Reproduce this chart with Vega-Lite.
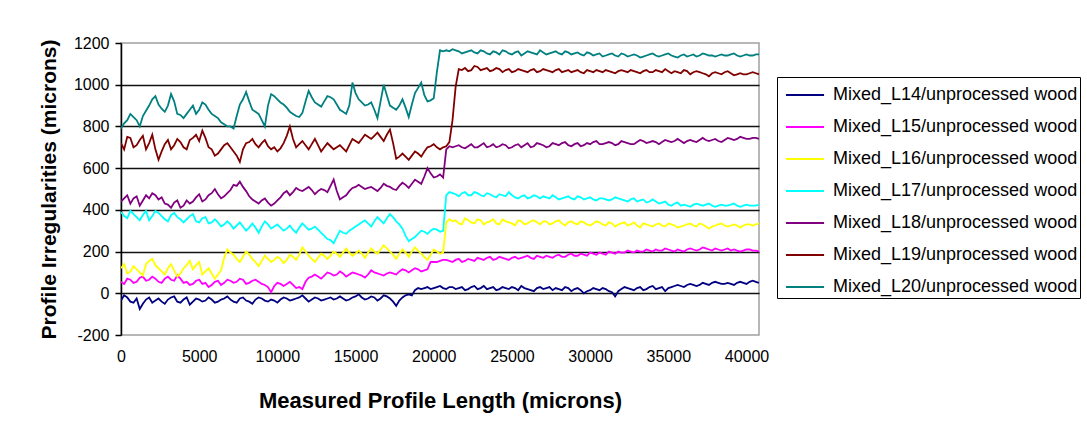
{
"$schema": "https://vega.github.io/schema/vega-lite/v6.json",
"width": 638, "height": 292,
"autosize": {"type": "none"},
"padding": {"left": 121, "top": 43, "right": 328, "bottom": 100},
"background": "white",
"config": {"font": "Liberation Sans", "view": {"stroke": "#a0a0a0", "strokeWidth": 1.5}},
"data": {"values": [
{"x":0,"L14":-35,"L15":55,"L16":120,"L17":390,"L18":440,"L19":720,"L20":790},
{"x":200,"L14":-10,"L15":45,"L16":140,"L17":370,"L18":455,"L19":690,"L20":815},
{"x":400,"L14":-20,"L15":70,"L16":95,"L17":360,"L18":470,"L19":750,"L20":830},
{"x":600,"L14":-40,"L15":65,"L16":105,"L17":395,"L18":430,"L19":745,"L20":860},
{"x":800,"L14":-45,"L15":50,"L16":130,"L17":380,"L18":455,"L19":700,"L20":845},
{"x":1000,"L14":-25,"L15":55,"L16":115,"L17":365,"L18":465,"L19":710,"L20":830},
{"x":1200,"L14":-75,"L15":75,"L16":100,"L17":350,"L18":420,"L19":735,"L20":800},
{"x":1400,"L14":-50,"L15":80,"L16":85,"L17":375,"L18":445,"L19":755,"L20":850},
{"x":1600,"L14":-30,"L15":60,"L16":140,"L17":395,"L18":470,"L19":690,"L20":875},
{"x":1800,"L14":-20,"L15":65,"L16":155,"L17":350,"L18":455,"L19":720,"L20":900},
{"x":2000,"L14":-45,"L15":80,"L16":165,"L17":370,"L18":480,"L19":760,"L20":930},
{"x":2200,"L14":-35,"L15":70,"L16":135,"L17":395,"L18":470,"L19":690,"L20":945},
{"x":2400,"L14":-25,"L15":55,"L16":120,"L17":385,"L18":450,"L19":640,"L20":905},
{"x":2600,"L14":-40,"L15":50,"L16":105,"L17":370,"L18":460,"L19":680,"L20":885},
{"x":2800,"L14":-50,"L15":70,"L16":90,"L17":355,"L18":430,"L19":715,"L20":870},
{"x":3000,"L14":-30,"L15":80,"L16":120,"L17":345,"L18":425,"L19":735,"L20":900},
{"x":3200,"L14":-20,"L15":65,"L16":140,"L17":375,"L18":410,"L19":690,"L20":955},
{"x":3400,"L14":-15,"L15":60,"L16":110,"L17":385,"L18":435,"L19":710,"L20":920},
{"x":3600,"L14":-40,"L15":85,"L16":80,"L17":365,"L18":445,"L19":740,"L20":860},
{"x":3800,"L14":-45,"L15":70,"L16":95,"L17":355,"L18":410,"L19":725,"L20":855},
{"x":4000,"L14":-30,"L15":50,"L16":120,"L17":340,"L18":420,"L19":700,"L20":840},
{"x":4200,"L14":-20,"L15":55,"L16":135,"L17":355,"L18":445,"L19":690,"L20":860},
{"x":4400,"L14":-55,"L15":40,"L16":155,"L17":370,"L18":430,"L19":735,"L20":880},
{"x":4600,"L14":-40,"L15":45,"L16":115,"L17":380,"L18":440,"L19":745,"L20":900},
{"x":4800,"L14":-25,"L15":60,"L16":135,"L17":345,"L18":460,"L19":760,"L20":860},
{"x":5000,"L14":-30,"L15":65,"L16":150,"L17":340,"L18":475,"L19":730,"L20":880},
{"x":5200,"L14":-40,"L15":45,"L16":90,"L17":360,"L18":440,"L19":780,"L20":915},
{"x":5400,"L14":-35,"L15":50,"L16":105,"L17":365,"L18":450,"L19":745,"L20":905},
{"x":5600,"L14":-20,"L15":30,"L16":120,"L17":335,"L18":470,"L19":700,"L20":880},
{"x":5800,"L14":-30,"L15":40,"L16":95,"L17":340,"L18":480,"L19":690,"L20":860},
{"x":6000,"L14":-45,"L15":55,"L16":70,"L17":355,"L18":500,"L19":660,"L20":850},
{"x":6200,"L14":-40,"L15":60,"L16":90,"L17":340,"L18":475,"L19":670,"L20":840},
{"x":6400,"L14":-30,"L15":40,"L16":110,"L17":320,"L18":455,"L19":690,"L20":820},
{"x":6600,"L14":-25,"L15":50,"L16":170,"L17":330,"L18":465,"L19":710,"L20":810},
{"x":6800,"L14":-15,"L15":65,"L16":210,"L17":345,"L18":480,"L19":720,"L20":800},
{"x":7000,"L14":-30,"L15":60,"L16":195,"L17":330,"L18":495,"L19":700,"L20":800},
{"x":7200,"L14":-40,"L15":50,"L16":185,"L17":310,"L18":520,"L19":680,"L20":790},
{"x":7400,"L14":-45,"L15":55,"L16":165,"L17":325,"L18":515,"L19":660,"L20":850},
{"x":7600,"L14":-25,"L15":70,"L16":150,"L17":340,"L18":535,"L19":630,"L20":905},
{"x":7800,"L14":-20,"L15":65,"L16":175,"L17":320,"L18":510,"L19":690,"L20":930},
{"x":8000,"L14":-35,"L15":45,"L16":200,"L17":300,"L18":490,"L19":720,"L20":965},
{"x":8200,"L14":-40,"L15":50,"L16":185,"L17":315,"L18":465,"L19":725,"L20":920},
{"x":8400,"L14":-50,"L15":60,"L16":165,"L17":335,"L18":450,"L19":740,"L20":880},
{"x":8600,"L14":-30,"L15":65,"L16":150,"L17":315,"L18":440,"L19":715,"L20":870},
{"x":8800,"L14":-20,"L15":55,"L16":130,"L17":290,"L18":430,"L19":700,"L20":860},
{"x":9000,"L14":-25,"L15":45,"L16":155,"L17":320,"L18":445,"L19":720,"L20":830},
{"x":9200,"L14":-35,"L15":40,"L16":180,"L17":345,"L18":455,"L19":735,"L20":800},
{"x":9400,"L14":-40,"L15":30,"L16":165,"L17":330,"L18":435,"L19":705,"L20":900},
{"x":9600,"L14":-30,"L15":5,"L16":150,"L17":310,"L18":420,"L19":690,"L20":955},
{"x":9800,"L14":-35,"L15":35,"L16":160,"L17":320,"L18":430,"L19":700,"L20":945},
{"x":10000,"L14":-45,"L15":50,"L16":175,"L17":330,"L18":445,"L19":680,"L20":930},
{"x":10200,"L14":-30,"L15":45,"L16":165,"L17":315,"L18":460,"L19":695,"L20":915},
{"x":10400,"L14":-20,"L15":35,"L16":145,"L17":300,"L18":480,"L19":720,"L20":905},
{"x":10600,"L14":-25,"L15":45,"L16":160,"L17":310,"L18":490,"L19":755,"L20":890},
{"x":10800,"L14":-35,"L15":55,"L16":185,"L17":325,"L18":470,"L19":800,"L20":870},
{"x":11000,"L14":-30,"L15":40,"L16":175,"L17":305,"L18":485,"L19":740,"L20":860},
{"x":11200,"L14":-25,"L15":25,"L16":160,"L17":290,"L18":505,"L19":700,"L20":850},
{"x":11400,"L14":-20,"L15":30,"L16":185,"L17":315,"L18":495,"L19":715,"L20":845},
{"x":11600,"L14":-10,"L15":20,"L16":220,"L17":335,"L18":490,"L19":730,"L20":865},
{"x":11800,"L14":-25,"L15":55,"L16":200,"L17":320,"L18":500,"L19":710,"L20":920},
{"x":12000,"L14":-40,"L15":75,"L16":180,"L17":305,"L18":510,"L19":690,"L20":970},
{"x":12200,"L14":-30,"L15":80,"L16":165,"L17":310,"L18":495,"L19":715,"L20":940},
{"x":12400,"L14":-20,"L15":90,"L16":150,"L17":320,"L18":475,"L19":740,"L20":915},
{"x":12600,"L14":-25,"L15":80,"L16":170,"L17":305,"L18":490,"L19":710,"L20":905},
{"x":12800,"L14":-35,"L15":70,"L16":190,"L17":290,"L18":500,"L19":680,"L20":895},
{"x":13000,"L14":-30,"L15":85,"L16":180,"L17":275,"L18":495,"L19":700,"L20":920},
{"x":13200,"L14":-25,"L15":100,"L16":165,"L17":260,"L18":485,"L19":720,"L20":945},
{"x":13400,"L14":-20,"L15":95,"L16":180,"L17":255,"L18":515,"L19":705,"L20":940},
{"x":13600,"L14":-30,"L15":85,"L16":200,"L17":240,"L18":545,"L19":690,"L20":930},
{"x":13800,"L14":-25,"L15":90,"L16":190,"L17":270,"L18":490,"L19":700,"L20":905},
{"x":14000,"L14":-15,"L15":105,"L16":175,"L17":300,"L18":450,"L19":710,"L20":880},
{"x":14200,"L14":-25,"L15":95,"L16":195,"L17":290,"L18":460,"L19":695,"L20":870},
{"x":14400,"L14":-35,"L15":80,"L16":215,"L17":285,"L18":470,"L19":680,"L20":860},
{"x":14600,"L14":-30,"L15":90,"L16":195,"L17":300,"L18":490,"L19":710,"L20":900},
{"x":14800,"L14":-20,"L15":100,"L16":180,"L17":310,"L18":505,"L19":740,"L20":1010},
{"x":15000,"L14":-15,"L15":95,"L16":190,"L17":320,"L18":510,"L19":730,"L20":960},
{"x":15200,"L14":-5,"L15":90,"L16":205,"L17":330,"L18":520,"L19":720,"L20":930},
{"x":15400,"L14":-20,"L15":85,"L16":190,"L17":340,"L18":510,"L19":740,"L20":915},
{"x":15600,"L14":-30,"L15":75,"L16":170,"L17":350,"L18":500,"L19":760,"L20":900},
{"x":15800,"L14":-25,"L15":90,"L16":195,"L17":335,"L18":505,"L19":750,"L20":905},
{"x":16000,"L14":-15,"L15":110,"L16":215,"L17":320,"L18":510,"L19":740,"L20":915},
{"x":16200,"L14":-20,"L15":100,"L16":200,"L17":345,"L18":500,"L19":755,"L20":880},
{"x":16400,"L14":-35,"L15":95,"L16":190,"L17":365,"L18":490,"L19":770,"L20":840},
{"x":16600,"L14":-25,"L15":90,"L16":210,"L17":350,"L18":505,"L19":750,"L20":920},
{"x":16800,"L14":-10,"L15":85,"L16":230,"L17":335,"L18":525,"L19":730,"L20":1000},
{"x":17000,"L14":-15,"L15":95,"L16":215,"L17":360,"L18":515,"L19":760,"L20":950},
{"x":17200,"L14":-25,"L15":100,"L16":200,"L17":380,"L18":510,"L19":785,"L20":900},
{"x":17400,"L14":-40,"L15":95,"L16":185,"L17":365,"L18":500,"L19":720,"L20":890},
{"x":17600,"L14":-60,"L15":90,"L16":165,"L17":345,"L18":495,"L19":645,"L20":880},
{"x":17800,"L14":-35,"L15":105,"L16":190,"L17":330,"L18":515,"L19":655,"L20":900},
{"x":18000,"L14":-20,"L15":115,"L16":210,"L17":310,"L18":530,"L19":670,"L20":930},
{"x":18200,"L14":-10,"L15":110,"L16":195,"L17":275,"L18":520,"L19":655,"L20":890},
{"x":18400,"L14":-5,"L15":100,"L16":175,"L17":250,"L18":505,"L19":640,"L20":845},
{"x":18600,"L14":-10,"L15":110,"L16":200,"L17":260,"L18":525,"L19":660,"L20":905},
{"x":18800,"L14":15,"L15":120,"L16":220,"L17":270,"L18":545,"L19":680,"L20":960},
{"x":19000,"L14":25,"L15":115,"L16":205,"L17":285,"L18":535,"L19":670,"L20":985},
{"x":19200,"L14":20,"L15":105,"L16":190,"L17":300,"L18":525,"L19":655,"L20":1010},
{"x":19400,"L14":25,"L15":110,"L16":175,"L17":295,"L18":560,"L19":680,"L20":950},
{"x":19600,"L14":30,"L15":115,"L16":160,"L17":285,"L18":600,"L19":700,"L20":920},
{"x":19800,"L14":20,"L15":150,"L16":185,"L17":300,"L18":575,"L19":705,"L20":925},
{"x":20000,"L14":25,"L15":150,"L16":210,"L17":310,"L18":555,"L19":715,"L20":935},
{"x":20200,"L14":30,"L15":150,"L16":200,"L17":305,"L18":560,"L19":700,"L20":1060},
{"x":20400,"L14":35,"L15":155,"L16":190,"L17":295,"L18":570,"L19":690,"L20":1165},
{"x":20600,"L14":25,"L15":160,"L16":195,"L17":300,"L18":555,"L19":700,"L20":1160},
{"x":20800,"L14":20,"L15":160,"L16":340,"L17":470,"L18":690,"L19":705,"L20":1165},
{"x":21000,"L14":30,"L15":155,"L16":355,"L17":485,"L18":705,"L19":725,"L20":1160},
{"x":21200,"L14":30,"L15":150,"L16":345,"L17":480,"L18":700,"L19":830,"L20":1170},
{"x":21400,"L14":20,"L15":160,"L16":350,"L17":475,"L18":705,"L19":990,"L20":1165},
{"x":21600,"L14":25,"L15":165,"L16":335,"L17":465,"L18":710,"L19":1075,"L20":1160},
{"x":21800,"L14":30,"L15":150,"L16":330,"L17":480,"L18":700,"L19":1070,"L20":1150},
{"x":22000,"L14":15,"L15":155,"L16":360,"L17":485,"L18":695,"L19":1080,"L20":1155},
{"x":22200,"L14":20,"L15":165,"L16":350,"L17":470,"L18":705,"L19":1065,"L20":1160},
{"x":22400,"L14":30,"L15":160,"L16":340,"L17":470,"L18":715,"L19":1070,"L20":1165},
{"x":22600,"L14":35,"L15":155,"L16":335,"L17":485,"L18":700,"L19":1090,"L20":1155},
{"x":22800,"L14":20,"L15":170,"L16":355,"L17":480,"L18":700,"L19":1085,"L20":1150},
{"x":23000,"L14":25,"L15":165,"L16":350,"L17":470,"L18":710,"L19":1070,"L20":1165},
{"x":23200,"L14":35,"L15":160,"L16":330,"L17":465,"L18":720,"L19":1075,"L20":1160},
{"x":23400,"L14":20,"L15":170,"L16":340,"L17":480,"L18":700,"L19":1080,"L20":1150},
{"x":23600,"L14":25,"L15":175,"L16":345,"L17":475,"L18":705,"L19":1065,"L20":1145},
{"x":23800,"L14":30,"L15":160,"L16":355,"L17":465,"L18":715,"L19":1070,"L20":1160},
{"x":24000,"L14":15,"L15":165,"L16":335,"L17":460,"L18":700,"L19":1080,"L20":1155},
{"x":24200,"L14":20,"L15":175,"L16":330,"L17":475,"L18":705,"L19":1075,"L20":1145},
{"x":24400,"L14":30,"L15":170,"L16":355,"L17":470,"L18":715,"L19":1060,"L20":1165},
{"x":24600,"L14":25,"L15":165,"L16":345,"L17":465,"L18":710,"L19":1070,"L20":1160},
{"x":24800,"L14":20,"L15":160,"L16":340,"L17":485,"L18":695,"L19":1075,"L20":1150},
{"x":25000,"L14":30,"L15":170,"L16":335,"L17":470,"L18":700,"L19":1060,"L20":1145},
{"x":25200,"L14":25,"L15":175,"L16":325,"L17":460,"L18":710,"L19":1065,"L20":1155},
{"x":25400,"L14":15,"L15":165,"L16":350,"L17":455,"L18":715,"L19":1075,"L20":1160},
{"x":25600,"L14":35,"L15":170,"L16":345,"L17":465,"L18":700,"L19":1070,"L20":1140},
{"x":25800,"L14":25,"L15":175,"L16":330,"L17":470,"L18":710,"L19":1065,"L20":1150},
{"x":26000,"L14":20,"L15":180,"L16":335,"L17":455,"L18":720,"L19":1060,"L20":1160},
{"x":26200,"L14":15,"L15":170,"L16":345,"L17":460,"L18":700,"L19":1070,"L20":1155},
{"x":26400,"L14":10,"L15":165,"L16":350,"L17":470,"L18":705,"L19":1075,"L20":1150},
{"x":26600,"L14":25,"L15":180,"L16":340,"L17":465,"L18":720,"L19":1060,"L20":1145},
{"x":26800,"L14":30,"L15":175,"L16":330,"L17":455,"L18":715,"L19":1065,"L20":1165},
{"x":27000,"L14":20,"L15":170,"L16":345,"L17":465,"L18":710,"L19":1075,"L20":1155},
{"x":27200,"L14":25,"L15":180,"L16":345,"L17":460,"L18":700,"L19":1070,"L20":1145},
{"x":27400,"L14":30,"L15":175,"L16":330,"L17":455,"L18":705,"L19":1065,"L20":1150},
{"x":27600,"L14":15,"L15":170,"L16":335,"L17":470,"L18":720,"L19":1060,"L20":1155},
{"x":27800,"L14":25,"L15":180,"L16":345,"L17":460,"L18":715,"L19":1070,"L20":1160},
{"x":28000,"L14":20,"L15":185,"L16":350,"L17":450,"L18":710,"L19":1075,"L20":1150},
{"x":28200,"L14":15,"L15":175,"L16":335,"L17":455,"L18":720,"L19":1060,"L20":1145},
{"x":28400,"L14":30,"L15":175,"L16":325,"L17":460,"L18":725,"L19":1065,"L20":1160},
{"x":28600,"L14":25,"L15":185,"L16":340,"L17":465,"L18":710,"L19":1070,"L20":1155},
{"x":28800,"L14":10,"L15":190,"L16":345,"L17":455,"L18":705,"L19":1060,"L20":1145},
{"x":29000,"L14":20,"L15":180,"L16":335,"L17":450,"L18":715,"L19":1065,"L20":1150},
{"x":29200,"L14":25,"L15":180,"L16":330,"L17":465,"L18":720,"L19":1070,"L20":1155},
{"x":29400,"L14":15,"L15":190,"L16":345,"L17":460,"L18":705,"L19":1060,"L20":1145},
{"x":29600,"L14":0,"L15":185,"L16":340,"L17":450,"L18":710,"L19":1055,"L20":1140},
{"x":29800,"L14":10,"L15":180,"L16":330,"L17":455,"L18":720,"L19":1070,"L20":1155},
{"x":30000,"L14":15,"L15":195,"L16":325,"L17":460,"L18":715,"L19":1065,"L20":1150},
{"x":30200,"L14":25,"L15":190,"L16":335,"L17":450,"L18":725,"L19":1060,"L20":1140},
{"x":30400,"L14":20,"L15":185,"L16":345,"L17":445,"L18":730,"L19":1070,"L20":1145},
{"x":30600,"L14":15,"L15":195,"L16":340,"L17":455,"L18":715,"L19":1065,"L20":1150},
{"x":30800,"L14":25,"L15":190,"L16":330,"L17":455,"L18":715,"L19":1060,"L20":1135},
{"x":31000,"L14":20,"L15":185,"L16":325,"L17":450,"L18":720,"L19":1070,"L20":1140},
{"x":31200,"L14":10,"L15":200,"L16":340,"L17":445,"L18":725,"L19":1065,"L20":1145},
{"x":31400,"L14":5,"L15":195,"L16":335,"L17":450,"L18":720,"L19":1060,"L20":1150},
{"x":31600,"L14":-15,"L15":190,"L16":320,"L17":460,"L18":710,"L19":1055,"L20":1140},
{"x":31800,"L14":10,"L15":200,"L16":330,"L17":455,"L18":715,"L19":1065,"L20":1135},
{"x":32000,"L14":20,"L15":195,"L16":335,"L17":450,"L18":730,"L19":1070,"L20":1150},
{"x":32200,"L14":30,"L15":195,"L16":340,"L17":445,"L18":725,"L19":1065,"L20":1145},
{"x":32400,"L14":25,"L15":205,"L16":325,"L17":440,"L18":720,"L19":1060,"L20":1135},
{"x":32600,"L14":20,"L15":200,"L16":330,"L17":450,"L18":715,"L19":1070,"L20":1140},
{"x":32800,"L14":15,"L15":195,"L16":340,"L17":455,"L18":715,"L19":1065,"L20":1145},
{"x":33000,"L14":25,"L15":205,"L16":325,"L17":440,"L18":725,"L19":1060,"L20":1140},
{"x":33200,"L14":30,"L15":200,"L16":315,"L17":445,"L18":735,"L19":1055,"L20":1130},
{"x":33400,"L14":15,"L15":200,"L16":335,"L17":450,"L18":730,"L19":1065,"L20":1135},
{"x":33600,"L14":20,"L15":210,"L16":330,"L17":435,"L18":720,"L19":1070,"L20":1140},
{"x":33800,"L14":30,"L15":205,"L16":325,"L17":440,"L18":725,"L19":1060,"L20":1145},
{"x":34000,"L14":35,"L15":200,"L16":320,"L17":450,"L18":730,"L19":1060,"L20":1150},
{"x":34200,"L14":20,"L15":210,"L16":330,"L17":440,"L18":725,"L19":1070,"L20":1140},
{"x":34400,"L14":25,"L15":205,"L16":335,"L17":430,"L18":715,"L19":1065,"L20":1135},
{"x":34600,"L14":30,"L15":205,"L16":325,"L17":435,"L18":725,"L19":1060,"L20":1140},
{"x":34800,"L14":10,"L15":215,"L16":320,"L17":440,"L18":735,"L19":1075,"L20":1145},
{"x":35000,"L14":25,"L15":210,"L16":335,"L17":425,"L18":730,"L19":1065,"L20":1150},
{"x":35200,"L14":30,"L15":205,"L16":330,"L17":420,"L18":725,"L19":1055,"L20":1140},
{"x":35400,"L14":35,"L15":200,"L16":325,"L17":430,"L18":730,"L19":1065,"L20":1135},
{"x":35600,"L14":40,"L15":210,"L16":315,"L17":435,"L18":740,"L19":1060,"L20":1130},
{"x":35800,"L14":35,"L15":205,"L16":320,"L17":420,"L18":730,"L19":1055,"L20":1140},
{"x":36000,"L14":30,"L15":200,"L16":325,"L17":425,"L18":720,"L19":1070,"L20":1145},
{"x":36200,"L14":40,"L15":210,"L16":330,"L17":420,"L18":730,"L19":1065,"L20":1135},
{"x":36400,"L14":45,"L15":215,"L16":335,"L17":415,"L18":735,"L19":1050,"L20":1140},
{"x":36600,"L14":40,"L15":210,"L16":325,"L17":425,"L18":730,"L19":1060,"L20":1145},
{"x":36800,"L14":35,"L15":205,"L16":320,"L17":430,"L18":725,"L19":1065,"L20":1135},
{"x":37000,"L14":40,"L15":210,"L16":335,"L17":425,"L18":735,"L19":1060,"L20":1140},
{"x":37200,"L14":50,"L15":220,"L16":330,"L17":420,"L18":745,"L19":1055,"L20":1150},
{"x":37400,"L14":45,"L15":215,"L16":320,"L17":425,"L18":735,"L19":1050,"L20":1145},
{"x":37600,"L14":40,"L15":210,"L16":310,"L17":430,"L18":730,"L19":1040,"L20":1140},
{"x":37800,"L14":50,"L15":205,"L16":320,"L17":420,"L18":735,"L19":1055,"L20":1140},
{"x":38000,"L14":55,"L15":215,"L16":325,"L17":415,"L18":740,"L19":1060,"L20":1135},
{"x":38200,"L14":50,"L15":210,"L16":330,"L17":420,"L18":730,"L19":1055,"L20":1140},
{"x":38400,"L14":45,"L15":205,"L16":335,"L17":425,"L18":725,"L19":1050,"L20":1145},
{"x":38600,"L14":45,"L15":210,"L16":325,"L17":420,"L18":735,"L19":1060,"L20":1140},
{"x":38800,"L14":50,"L15":215,"L16":320,"L17":420,"L18":745,"L19":1065,"L20":1140},
{"x":39000,"L14":45,"L15":205,"L16":325,"L17":425,"L18":740,"L19":1055,"L20":1145},
{"x":39200,"L14":40,"L15":210,"L16":330,"L17":430,"L18":735,"L19":1045,"L20":1150},
{"x":39400,"L14":50,"L15":205,"L16":325,"L17":420,"L18":740,"L19":1050,"L20":1140},
{"x":39600,"L14":55,"L15":200,"L16":315,"L17":415,"L18":750,"L19":1055,"L20":1135},
{"x":39800,"L14":50,"L15":205,"L16":325,"L17":420,"L18":745,"L19":1050,"L20":1140},
{"x":40000,"L14":45,"L15":210,"L16":330,"L17":425,"L18":740,"L19":1050,"L20":1145},
{"x":40200,"L14":55,"L15":210,"L16":330,"L17":420,"L18":740,"L19":1055,"L20":1140},
{"x":40400,"L14":60,"L15":205,"L16":325,"L17":420,"L18":745,"L19":1060,"L20":1140},
{"x":40600,"L14":55,"L15":205,"L16":330,"L17":420,"L18":745,"L19":1055,"L20":1145},
{"x":40800,"L14":50,"L15":200,"L16":335,"L17":425,"L18":740,"L19":1050,"L20":1145}
]},
"transform": [{"fold": ["L14","L15","L16","L17","L18","L19","L20"], "as": ["series","value"]}],
"mark": {"type": "line", "strokeWidth": 1.8, "clip": true},
"encoding": {
  "x": {"field": "x", "type": "quantitative",
        "scale": {"domain": [0, 40800], "nice": false, "zero": false},
        "axis": {"title": "Measured Profile Length (microns)", "values": [0,5000,10000,15000,20000,25000,30000,35000,40000],
                 "labelExpr": "'' + datum.value",
                 "grid": false, "domain": false, "ticks": false, "labelPadding": 13, "labelFontSize": 16, "labelColor": "black", "labelFlush": false,
                 "titleFontSize": 22, "titleFontWeight": "bold", "titleColor": "black", "titlePadding": 26}},
  "y": {"field": "value", "type": "quantitative",
        "scale": {"domain": [-200, 1200], "nice": false},
        "axis": {"title": "Profile Irregularities (microns)", "values": [-200,0,200,400,600,800,1000,1200],
                 "labelExpr": "'' + datum.value",
                 "grid": true, "gridColor": {"condition": {"test": "datum.value == -200 || datum.value == 1200", "value": "transparent"}, "value": "#111111"},
                 "gridWidth": 1.5, "domainColor": "black", "domainWidth": 1.5, "tickColor": "black", "tickSize": 6, "tickWidth": 1.5,
                 "labelPadding": 6, "labelFontSize": 16, "labelColor": "black",
                 "titleFontSize": 21, "titleFontWeight": "bold", "titleColor": "black", "titlePadding": 14}},
  "color": {"field": "series", "type": "nominal",
            "scale": {"domain": ["L14","L15","L16","L17","L18","L19","L20"], "range": ["#000080","#FF00FF","#FFFF00","#00FFFF","#800080","#800000","#008080"]},
            "legend": {"title": null, "orient": "none", "legendX": 656, "legendY": 34, "direction": "vertical",
                       "strokeColor": "black", "fillColor": "white", "padding": 2,
                       "symbolType": "M-1.27,0H1.27", "symbolSize": 900, "symbolStrokeWidth": 2, "symbolOffset": 10,
                       "labelOffset": 12, "labelFontSize": 18, "labelColor": "black", "rowPadding": 7, "labelLimit": 400,
                       "labelExpr": "'Mixed_' + datum.label + '/unprocessed wood'"}}
}
}
